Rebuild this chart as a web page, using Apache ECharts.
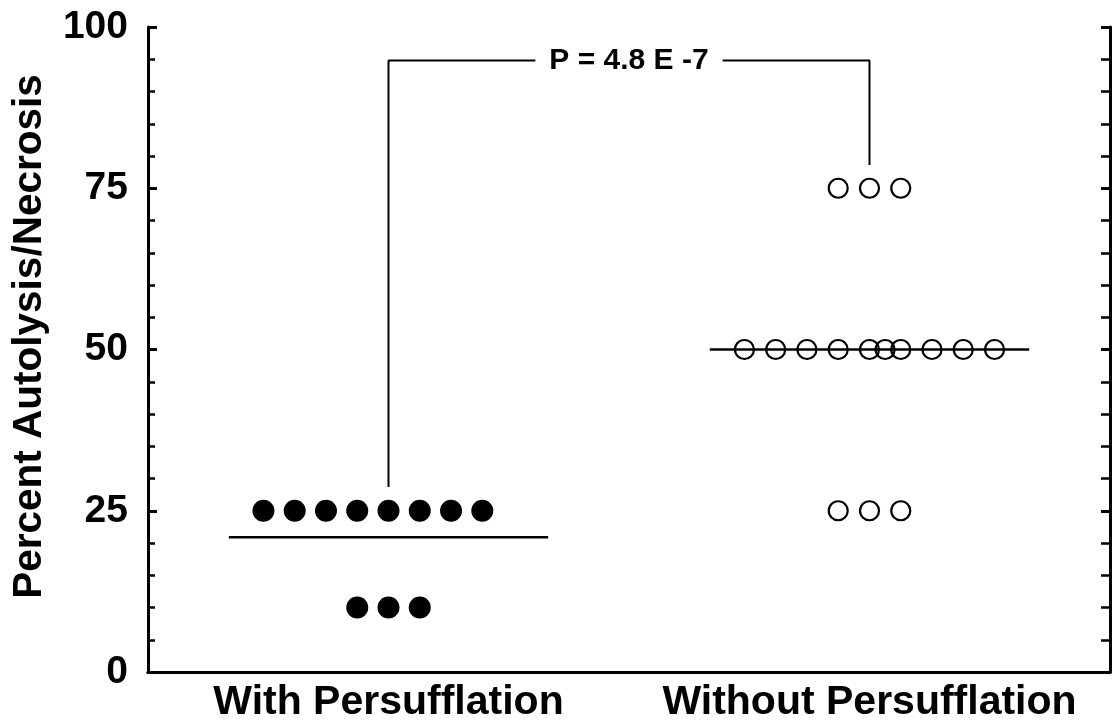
<!DOCTYPE html>
<html><head><meta charset="utf-8">
<script src="https://cdn.jsdelivr.net/npm/echarts@6/dist/echarts.min.js"></script>
<style>html,body{margin:0;padding:0;background:#fff}#c{width:1118px;height:725px}</style>
</head><body><div id="c"></div>
<script>
// ---- data ----
const categories = ['With Persufflation', 'Without Persufflation'];
const withValues = [25, 25, 25, 25, 25, 25, 25, 25, 10, 10, 10];
const withJitter = [-4, -3, -2, -1, 0, 1, 2, 3, -1, 0, 1];
const withoutValues = [75, 75, 75, 50, 50, 50, 50, 50, 50, 50, 50, 50, 50, 25, 25, 25];
const withoutJitter = [-1, 0, 1, -4, -3, -2, -1, 0, 0.5, 1, 2, 3, 4, -1, 0, 1];
const yTickValues = [0, 25, 50, 75, 100];
const yTitle = 'Percent Autolysis/Necrosis';
const pLabel = 'P = 4.8 E -7';
const bracketLeftEnd = 28.7, bracketTop = 94.8, bracketRightEnd = 78.6;

// ---- layout helpers ----
const FONT = "'Liberation Sans', Arial, sans-serif";
const dotStep = 0.065;
const meanHalf = 0.332;
const mean = a => a.reduce((s, v) => s + v, 0) / a.length;
const pts = (vals, jit, g) => vals.map((v, i) => [g + jit[i] * dotStep, v]);
const meanLine = (vals, g) => [[g - meanHalf, mean(vals)], [g + meanHalf, mean(vals)]];

const chart = echarts.init(document.getElementById('c'));
const axisLine = {show: true, lineStyle: {color: '#000', width: 3}};
chart.setOption({
  animation: false,
  backgroundColor: '#fff',
  grid: {left: 148, top: 27, right: 8, bottom: 53},
  xAxis: [{
    type: 'value', min: 0.5, max: 2.5, interval: 0.5, position: 'bottom',
    axisLine: axisLine, axisTick: {show: false}, splitLine: {show: false},
    axisLabel: {
      color: '#000', fontFamily: FONT, fontWeight: 'bold', fontSize: 41, margin: 10,
      formatter: v => (Math.abs(v - Math.round(v)) < 1e-6 && categories[Math.round(v) - 1]) || ''
    }
  }, {
    type: 'value', min: 0.5, max: 2.5, position: 'top',
    axisLine: axisLine, axisTick: {show: false}, axisLabel: {show: false}, splitLine: {show: false}
  }],
  yAxis: [{
    type: 'value', min: yTickValues[0], max: yTickValues[yTickValues.length - 1], interval: 25, position: 'left',
    name: yTitle, nameLocation: 'middle', nameGap: 98,
    nameTextStyle: {color: '#000', fontFamily: FONT, fontWeight: 'bold', fontSize: 40.5, padding: [0, 0, 0, 26]},
    axisLine: axisLine,
    axisTick: {show: true, inside: true, length: 9, lineStyle: {color: '#000', width: 3}},
    minorTick: {show: true, splitNumber: 5, length: 7, lineStyle: {color: '#000', width: 2.5}},
    splitLine: {show: false},
    axisLabel: {color: '#000', fontFamily: FONT, fontWeight: 'bold', fontSize: 39, margin: 20}
  }, {
    type: 'value', min: yTickValues[0], max: yTickValues[yTickValues.length - 1], interval: 25, position: 'right',
    axisLine: axisLine,
    axisTick: {show: true, inside: true, length: 9, lineStyle: {color: '#000', width: 3}},
    minorTick: {show: true, splitNumber: 5, length: 9, lineStyle: {color: '#000', width: 2.5}},
    splitLine: {show: false}, axisLabel: {show: false}
  }],
  series: [
    {type: 'line', data: meanLine(withValues, 1), symbol: 'none', lineStyle: {color: '#000', width: 2.5}, z: 2},
    {type: 'line', data: meanLine(withoutValues, 2), symbol: 'none', lineStyle: {color: '#000', width: 2.5}, z: 2},
    {type: 'scatter', data: pts(withValues, withJitter, 1), symbol: 'circle', symbolSize: 22,
      itemStyle: {color: '#000', opacity: 1}, z: 3},
    {type: 'scatter', data: pts(withoutValues, withoutJitter, 2), symbol: 'circle', symbolSize: 19,
      itemStyle: {color: 'rgba(255,255,255,0)', borderColor: '#000', borderWidth: 2.2, opacity: 1}, z: 3},
    {type: 'line', data: [[1, bracketLeftEnd], [1, bracketTop], [2, bracketTop], [2, bracketRightEnd]],
      symbol: 'none', lineStyle: {color: '#000', width: 2}, z: 2},
    {type: 'scatter', data: [[1.5, bracketTop]], symbolSize: 1, itemStyle: {color: 'rgba(255,255,255,0)', opacity: 1}, z: 5,
      label: {show: true, position: 'inside', formatter: pLabel, color: '#000', opacity: 1, fontFamily: FONT,
        fontWeight: 'bold', fontSize: 30, backgroundColor: '#fff', padding: [2, 14]}}
  ]
});
</script></body></html>
